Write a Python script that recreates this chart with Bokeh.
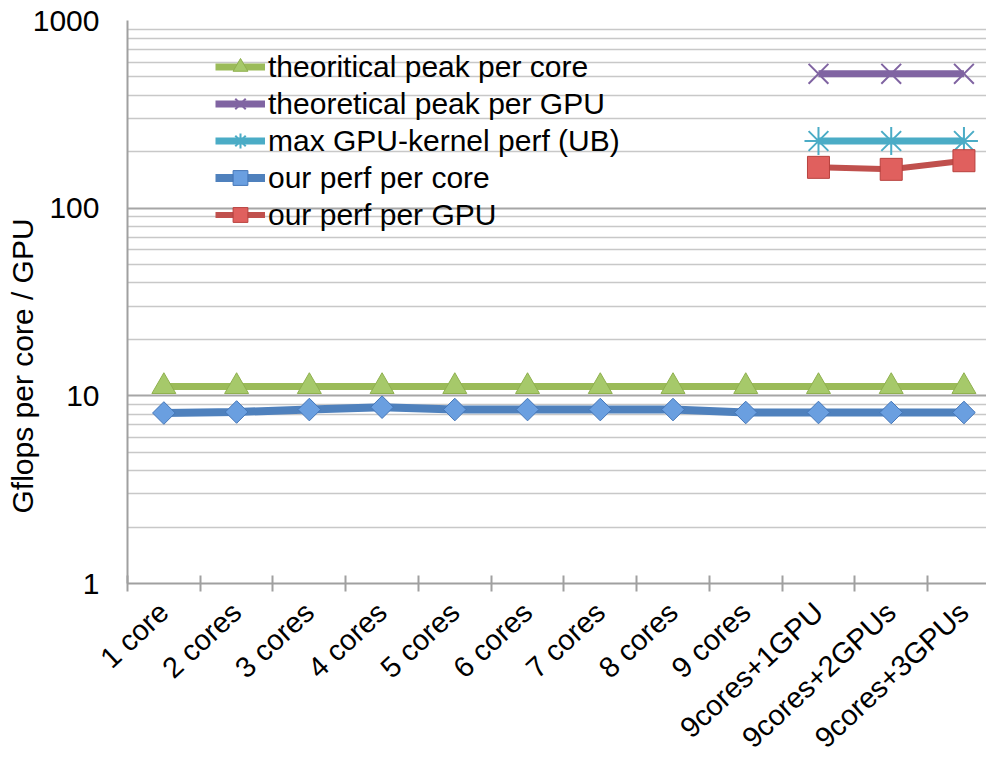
import numpy as np
from bokeh.plotting import figure
from bokeh.models import Range1d, FixedTicker, Legend, LegendItem, Title
from bokeh.embed import file_html
from bokeh.resources import INLINE

# ---------------- data ----------------
categories = ["1 core", "2 cores", "3 cores", "4 cores", "5 cores", "6 cores",
              "7 cores", "8 cores", "9 cores", "9cores+1GPU", "9cores+2GPUs", "9cores+3GPUs"]
gpu_categories = ["9cores+1GPU", "9cores+2GPUs", "9cores+3GPUs"]

theo_peak_core = [11.2, 11.2, 11.2, 11.2, 11.2, 11.2, 11.2, 11.2, 11.2, 11.2, 11.2, 11.2]
theo_peak_gpu = [520, 520, 520]
max_gpu_kernel = [228, 228, 228]
perf_core = [8.1, 8.2, 8.45, 8.7, 8.45, 8.45, 8.45, 8.45, 8.15, 8.15, 8.15, 8.15]
perf_gpu = [165, 161, 179]

y_major = [1, 10, 100, 1000]
y_labels = {1: "1", 10: "10", 100: "100", 1000: "1000"}
y_title = "Gflops per core / GPU"

FONT = "Liberation Sans"

xs = list(range(len(categories)))
xg = [categories.index(c) for c in gpu_categories]

p = figure(width=986, height=768, y_axis_type="log",
           x_range=Range1d(-0.5, 11.31), y_range=Range1d(1, 1000),
           output_backend="svg", toolbar_location=None,
           min_border_left=127, min_border_right=0, min_border_top=20, min_border_bottom=183)
p.outline_line_color = None
p.xgrid.grid_line_color = None

# y axis / grid
minor = [m * d for d in (1, 10, 100) for m in range(2, 10)]
yticker = FixedTicker(ticks=y_major, minor_ticks=minor)
p.yaxis.ticker = yticker
p.ygrid.ticker = yticker
p.yaxis.major_label_overrides = y_labels
p.ygrid.grid_line_color = "#a6a6a6"
p.ygrid.grid_line_width = 2
p.ygrid.minor_grid_line_color = "#c8c8c8"
p.ygrid.minor_grid_line_width = 1.5
p.yaxis.axis_line_color = "#a0a0a0"
p.yaxis.axis_line_width = 2
p.yaxis.major_tick_in = 0
p.yaxis.major_tick_out = 0
p.yaxis.minor_tick_in = 0
p.yaxis.minor_tick_out = 0
p.yaxis.major_label_standoff = 28
p.yaxis.major_label_text_font = FONT
p.yaxis.major_label_text_font_size = "30px"
p.yaxis.major_label_text_color = "black"

# y title as a left-side title (can be shifted along the axis)
p.add_layout(Title(text=y_title, align="left", offset=70, standoff=-18,
                   text_font=FONT, text_font_size="30px", text_font_style="normal",
                   text_color="black"), "left")

# x axis: ticks at category boundaries, labels at category centres
xticker = FixedTicker(ticks=xs, minor_ticks=[i - 0.5 for i in range(len(categories) + 1)])
p.xaxis.ticker = xticker
p.xaxis.major_label_overrides = {i: c for i, c in enumerate(categories)}
p.xaxis.major_label_orientation = 0.75
p.xaxis.major_label_standoff = 16
p.xaxis.major_label_text_font = FONT
p.xaxis.major_label_text_font_size = "29px"
p.xaxis.major_label_text_color = "black"
p.xaxis.major_tick_in = 0
p.xaxis.major_tick_out = 0
p.xaxis.minor_tick_in = 8
p.xaxis.minor_tick_out = 8
p.xaxis.minor_tick_line_color = "#a0a0a0"
p.xaxis.minor_tick_line_width = 2
p.xaxis.axis_line_color = "#a0a0a0"
p.xaxis.axis_line_width = 2

items = []

# theoretical peak per core
l1 = p.line(xs, theo_peak_core, line_color="#9bbb59", line_width=7)
s1 = p.scatter(xs, theo_peak_core, marker="triangle", size=24,
               fill_color="#a6c96a", line_color="#8fb04f", line_width=1)
items.append(LegendItem(label="theoritical peak per core", renderers=[l1, s1]))

# theoretical peak per GPU
l2 = p.line(xg, theo_peak_gpu, line_color="#8064a2", line_width=7)
s2 = p.scatter(xg, theo_peak_gpu, marker="x", size=28,
               line_color="#8064a2", line_width=2)
items.append(LegendItem(label="theoretical peak per GPU", renderers=[l2, s2]))

# max GPU-kernel perf (UB)
l3 = p.line(xg, max_gpu_kernel, line_color="#4bacc6", line_width=7)
s3 = p.scatter(xg, max_gpu_kernel, marker="asterisk", size=28,
               line_color="#4bacc6", line_width=2)
items.append(LegendItem(label="max GPU-kernel perf (UB)", renderers=[l3, s3]))

# our perf per core
l4 = p.line(xs, perf_core, line_color="#4f81bd", line_width=8)
s4 = p.scatter(xs, perf_core, marker="square", angle=np.pi / 4, size=16,
               fill_color="#6a9fe0", line_color="#4476b8", line_width=1)
items.append(LegendItem(label="our perf per core", renderers=[l4, s4]))

# our perf per GPU
l5 = p.line(xg, perf_gpu, line_color="#c0504d", line_width=6)
s5 = p.scatter(xg, perf_gpu, marker="square", size=22,
               fill_color="#e0605e", line_color="#b8413e", line_width=1)
items.append(LegendItem(label="our perf per GPU", renderers=[l5, s5]))

legend = Legend(items=items, location=(88, 350), orientation="vertical",
                glyph_width=50, glyph_height=37, label_height=30, spacing=0,
                label_standoff=3, padding=0, margin=0,
                border_line_color=None, background_fill_alpha=0,
                label_text_font=FONT, label_text_font_size="30px",
                label_text_color="black")
p.add_layout(legend, "center")

open("out.html", "w").write(file_html(p, INLINE))
